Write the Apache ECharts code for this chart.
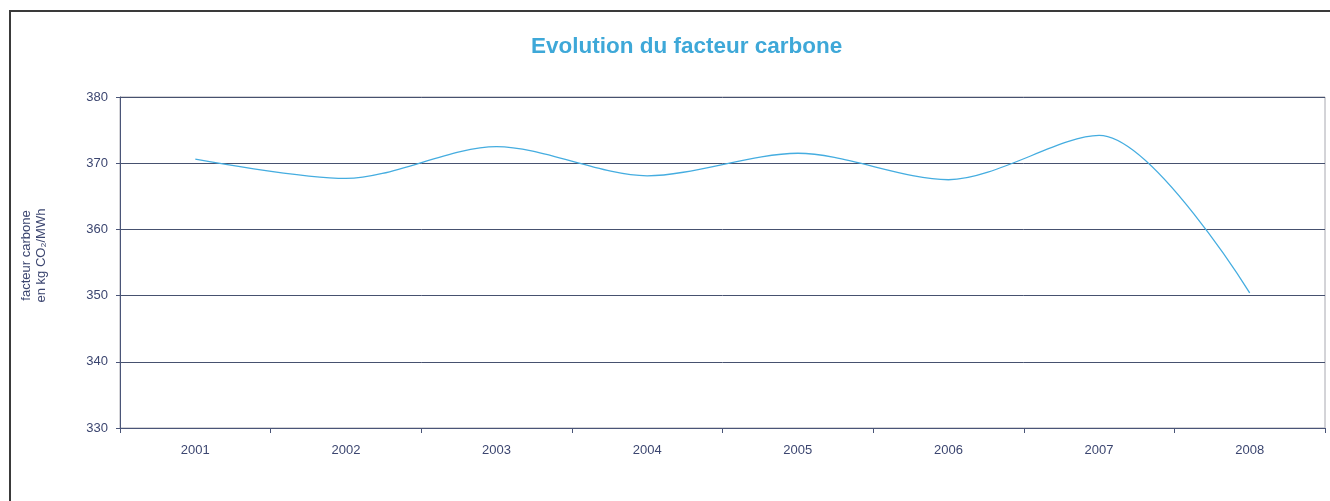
<!DOCTYPE html>
<html>
<head>
<meta charset="utf-8">
<script src="https://cdn.jsdelivr.net/npm/echarts@6/dist/echarts.min.js"></script>
<style>
  html, body { margin: 0; padding: 0; background: #fff; overflow: hidden; }
  #chart { width: 1330px; height: 501px; position: absolute; left: 0; top: 0; }
  #frame {
    position: absolute; left: 9px; top: 10px; width: 1340px; height: 520px;
    border: 2px solid #3a3a3a; pointer-events: none;
  }
</style>
</head>
<body>
<div id="chart"></div>
<div id="frame"></div>
<script>
const years = ['2001', '2002', '2003', '2004', '2005', '2006', '2007', '2008'];
const facteur = [370.6, 367.7, 372.5, 368.1, 371.5, 367.5, 374.2, 350.4];
const yMin = 330;
const yMax = 380;
const yStep = 10;

const axisColor = '#4a5578';
const textColor = '#3c4670';
const font = 'Liberation Sans, Arial, sans-serif';

const chart = echarts.init(document.getElementById('chart'));

chart.setOption({
  backgroundColor: '#fff',
  title: {
    text: 'Evolution du facteur carbone',
    left: 526,
    top: 30,
    textStyle: {
      fontFamily: font,
      fontSize: 22.5,
      fontWeight: 'bold',
      color: '#3ea8d8'
    }
  },
  grid: {
    show: true,
    borderColor: '#a8a8b0',
    borderWidth: 1,
    left: 120,
    right: 5,
    top: 97,
    bottom: 73
  },
  xAxis: {
    type: 'category',
    data: years,
    boundaryGap: true,
    axisLine: { lineStyle: { color: axisColor, width: 1 } },
    axisTick: { show: true, length: 5, lineStyle: { color: axisColor } },
    axisLabel: {
      color: textColor,
      fontFamily: font,
      fontSize: 13,
      margin: 16
    },
    splitLine: { show: false }
  },
  yAxis: {
    type: 'value',
    min: yMin,
    max: yMax,
    interval: yStep,
    name: 'facteur carbone\nen kg CO₂/MWh',
    nameLocation: 'middle',
    nameRotate: 90,
    nameGap: 71,
    nameTextStyle: {
      color: textColor,
      fontFamily: font,
      fontSize: 13,
      lineHeight: 15,
      padding: [0, 0, 0, 14]
    },
    axisLine: { show: true, lineStyle: { color: axisColor, width: 1 } },
    axisTick: { show: true, length: 4, lineStyle: { color: axisColor } },
    axisLabel: {
      color: textColor,
      fontFamily: font,
      fontSize: 13,
      margin: 12
    },
    splitLine: { lineStyle: { color: '#46516f', width: 1 } }
  },
  series: [{
    type: 'line',
    data: facteur,
    smooth: 0.3,
    symbol: 'none',
    lineStyle: { color: '#45ade0', width: 1.3 },
    animation: false
  }]
});
</script>
</body>
</html>
